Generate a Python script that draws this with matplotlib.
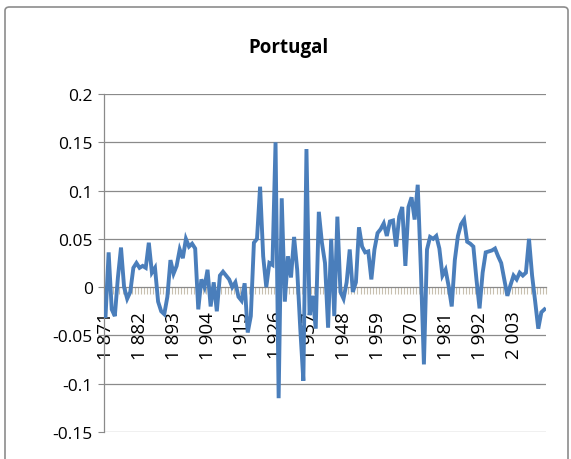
import matplotlib
matplotlib.use("Agg")
from matplotlib import pyplot as plt
from matplotlib.patches import FancyBboxPatch
import numpy as np

plt.rcParams['font.family'] = ['Open Sans', 'DejaVu Sans']

title = "Portugal"
first_year = 1871
values = [
    -0.030, 0.036, -0.023, -0.030, 0.010, 0.041, 0.000, -0.012, -0.005, 0.020,
    0.025, 0.020, 0.022, 0.020, 0.046, 0.015, 0.020, -0.015, -0.025, -0.028,
    -0.010, 0.028, 0.014, 0.022, 0.039, 0.030, 0.050, 0.042, 0.045, 0.040,
    -0.023, 0.008, 0.000, 0.018, -0.020, 0.005, -0.025, 0.012, 0.016, 0.012,
    0.008, 0.000, 0.005, -0.010, -0.014, 0.004, -0.047, -0.030, 0.046, 0.050,
    0.104, 0.032, 0.000, 0.025, 0.023, 0.150, -0.115, 0.092, -0.015, 0.032,
    0.010, 0.052, 0.018, -0.043, -0.097, 0.143, -0.029, -0.009, -0.043, 0.078,
    0.046, 0.025, -0.042, 0.050, -0.030, 0.073, -0.005, -0.012, 0.005, 0.039,
    -0.005, 0.005, 0.062, 0.042, 0.036, 0.037, 0.008, 0.039, 0.056, 0.060,
    0.066, 0.053, 0.068, 0.069, 0.042, 0.073, 0.083, 0.022, 0.083, 0.093,
    0.070, 0.106, 0.020, -0.080, 0.039, 0.052, 0.050, 0.053, 0.040, 0.012,
    0.018, 0.001, -0.020, 0.028, 0.053, 0.065, 0.070, 0.047, 0.045, 0.042,
    0.008, -0.022, 0.015, 0.036, 0.037, 0.038, 0.040, 0.032, 0.025, 0.008,
    -0.009, 0.002, 0.012, 0.008, 0.015, 0.012, 0.015, 0.050, 0.012, -0.015,
    -0.043, -0.026, -0.023,
]
years = [first_year + i for i in range(len(values))]
label_step = 11
y_ticks = [-0.15, -0.1, -0.05, 0, 0.05, 0.1, 0.15, 0.2]
y_labels = ["-0.15", "-0.1", "-0.05", "0", "0.05", "0.1", "0.15", "0.2"]

W, H = 571, 460
fig = plt.figure(figsize=(W / 100, H / 100), dpi=100)

# chart area border, behind the axes
border = FancyBboxPatch((5 / W, 1 - 470 / H), 563 / W, 462 / H,
                        boxstyle="round,pad=0,rounding_size=0.008",
                        transform=fig.transFigure, facecolor='white',
                        edgecolor='#8c8c8c', linewidth=1.2, zorder=-1)
fig.patches.append(border)

ax = fig.add_axes([104 / W, 1 - 433 / H, (546 - 104) / W, (433 - 95) / H])
ax.set_facecolor('none')

n = len(values)
x = np.arange(n)
ax.plot(x, values, color='#4a7ebb', linewidth=2.8, zorder=3, solid_joinstyle='miter')

ax.set_xlim(-0.5, n - 0.5)
ax.set_ylim(-0.15, 0.2)
ax.set_yticks(y_ticks)
ax.set_yticklabels(y_labels)
for yt in y_ticks:
    if yt != 0:
        ax.axhline(yt, color='#8a8a8a', linewidth=0.9, zorder=1)

for s in ['top', 'right']:
    ax.spines[s].set_visible(False)
ax.spines['left'].set_color('#8a8a8a')
ax.spines['left'].set_linewidth(0.9)
ax.spines['bottom'].set_position(('data', 0))
ax.spines['bottom'].set_color('#8a8a8a')
ax.spines['bottom'].set_linewidth(0.9)

lab_idx = list(range(0, n, label_step))
ax.set_xticks(lab_idx)
ax.set_xticklabels(["%d %03d" % (years[i] // 1000, years[i] % 1000) for i in lab_idx],
                   rotation=90, va='top', ha='center')
ax.set_xticks(np.arange(n + 1) - 0.5, minor=True)
ax.tick_params(axis='x', which='major', length=0, pad=17, labelsize=13.5, colors='black')
ax.tick_params(axis='x', which='minor', length=5, width=0.8, color='#c8c0b0', direction='out')
ax.tick_params(axis='y', length=4, width=0.8, color='#8a8a8a', labelsize=12.5, pad=4)

fig.text(288 / W, 1 - 48 / H, title, ha='center', va='center',
         fontsize=13.5, fontweight='bold')

fig.savefig('out.png', dpi=100)
